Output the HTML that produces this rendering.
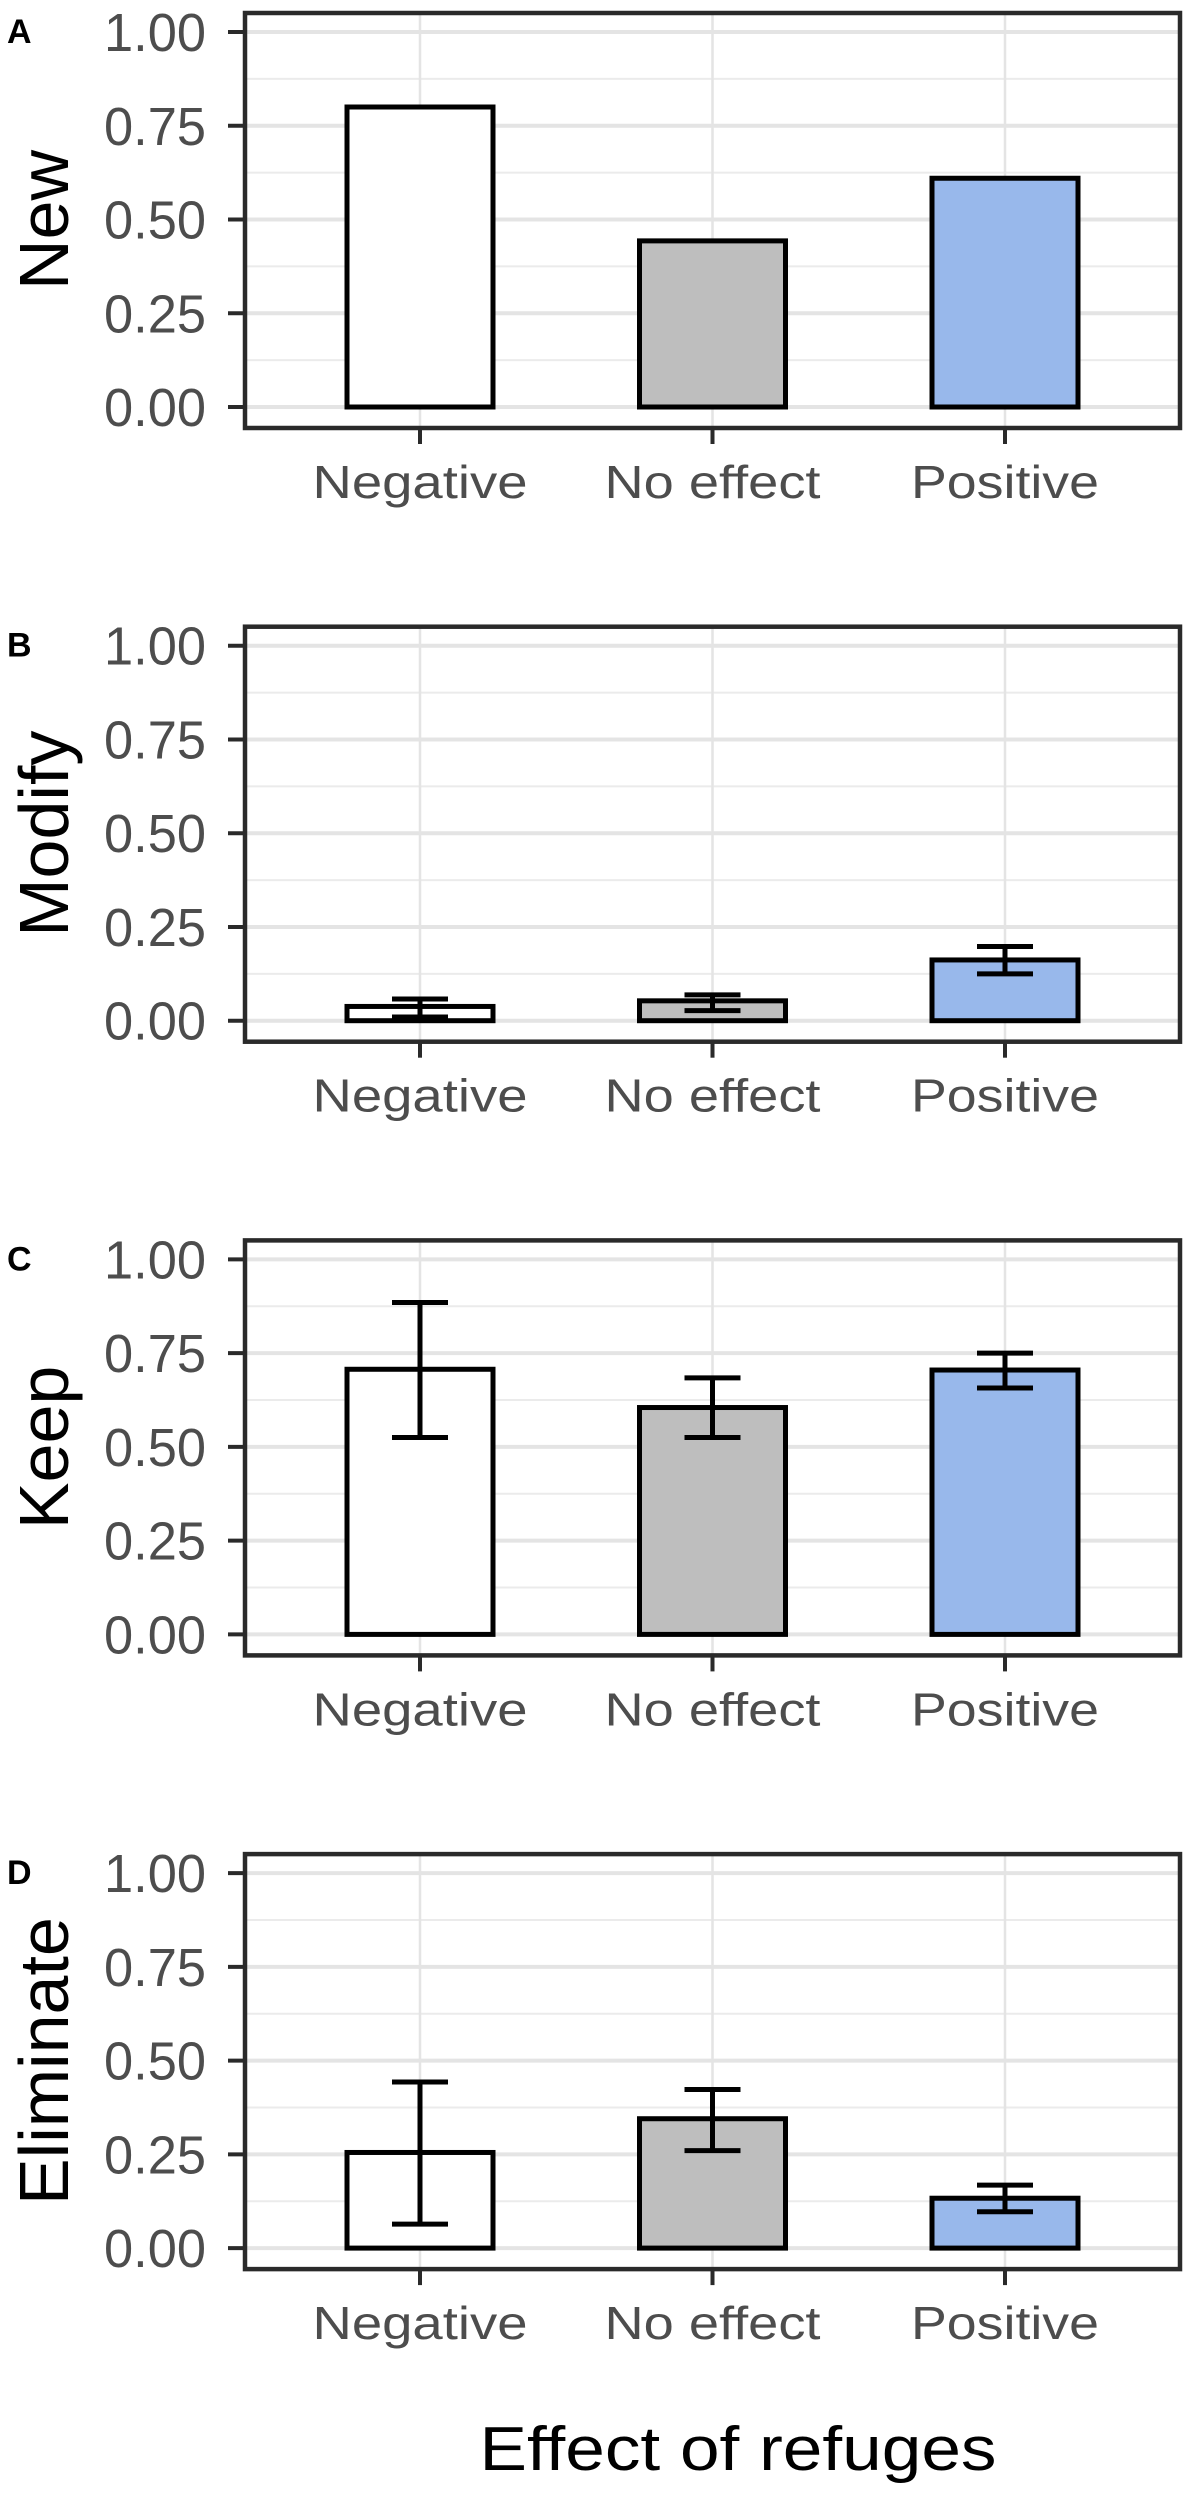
<!DOCTYPE html>
<html><head><meta charset="utf-8"><style>
html,body{margin:0;padding:0;background:#fff;}
svg{display:block;font-family:"Liberation Sans",Arial,sans-serif;}
</style></head><body>
<svg id="chart" width="1187" height="2500" viewBox="0 0 1187 2500" xmlns="http://www.w3.org/2000/svg"></svg>
<script>
const categories = ["Negative", "No effect", "Positive"];
const panelTitles = ["New", "Modify", "Keep", "Eliminate"];
const panelLetters = ["A", "B", "C", "D"];
const newValues = [0.80, 0.443, 0.61];
const modifyValues = [0.038, 0.053, 0.162];
const modifyLow = [0.010, 0.027, 0.125];
const modifyHigh = [0.058, 0.069, 0.198];
const keepValues = [0.707, 0.605, 0.705];
const keepLow = [0.525, 0.525, 0.657];
const keepHigh = [0.885, 0.684, 0.750];
const eliminateValues = [0.255, 0.345, 0.133];
const eliminateLow = [0.064, 0.260, 0.097];
const eliminateHigh = [0.443, 0.423, 0.168];
const yTicks = [0, 0.25, 0.5, 0.75, 1];
const yTickLabels = ["0.00", "0.25", "0.50", "0.75", "1.00"];
const barColors = ["#ffffff", "#bebebe", "#98b8eb"];
const labelLengths = [215, 216, 188];

const NS = "http://www.w3.org/2000/svg";
const svg = document.getElementById("chart");
function mk(tag, attrs, parent) {
  const e = document.createElementNS(NS, tag);
  for (const k in attrs) e.setAttribute(k, attrs[k]);
  (parent || svg).appendChild(e);
  return e;
}
const panels = [
  {vals: newValues, lo: null, hi: null},
  {vals: modifyValues, lo: modifyLow, hi: modifyHigh},
  {vals: keepValues, lo: keepLow, hi: keepHigh},
  {vals: eliminateValues, lo: eliminateLow, hi: eliminateHigh}
];
const L = 245, R = 1180, plotH = 375, barW = 146, capW = 56;
function xScale(i) { return 420 + i * 292.5; }

panels.forEach((p, pi) => {
  const y0 = 407 + pi * 613.7;
  const yS = v => y0 - v * plotH;
  const g = mk("g", {});
  
  
  for (let k = 0; k < 4; k++) {
    const v = 0.125 + k * 0.25;
    const ln = mk("line", {x1: L, x2: R, y1: yS(v), y2: yS(v), stroke: "#ebebeb", "stroke-width": 2}, g);
    
    
  }
  yTicks.forEach(v => {
    const ln = mk("line", {x1: L, x2: R, y1: yS(v), y2: yS(v), stroke: "#e4e4e4", "stroke-width": 4}, g);
    
    
  });
  categories.forEach((c, i) => {
    const ln = mk("line", {x1: xScale(i), x2: xScale(i), y1: y0 - 394, y2: y0 + 21, stroke: "#e4e4e4", "stroke-width": 2.5}, g);
    
    
  });
  p.vals.forEach((v, i) => {
    const r = mk("rect", {x: xScale(i) - barW / 2, y: yS(v), width: barW, height: y0 - yS(v), fill: barColors[i], stroke: "#000", "stroke-width": 5}, g);
    
    
    if (p.lo) {
      const eg = mk("g", {stroke: "#000", "stroke-width": 5}, g);
      
      
      const x = xScale(i);
      mk("line", {x1: x, x2: x, y1: yS(p.hi[i]), y2: yS(p.lo[i])}, eg);
      mk("line", {x1: x - capW / 2, x2: x + capW / 2, y1: yS(p.hi[i]), y2: yS(p.hi[i])}, eg);
      mk("line", {x1: x - capW / 2, x2: x + capW / 2, y1: yS(p.lo[i]), y2: yS(p.lo[i])}, eg);
    }
  });
  const fr = mk("rect", {x: L, y: y0 - 394, width: R - L, height: 415, fill: "none", stroke: "#2a2a2a", "stroke-width": 4.5}, g);
  
  
  yTicks.forEach((v, k) => {
    const t = mk("line", {x1: 228, x2: L, y1: yS(v), y2: yS(v), stroke: "#2a2a2a", "stroke-width": 4}, g);
    
    
    const tx = mk("text", {x: 206, y: yS(v) + 19, "text-anchor": "end", "font-size": 54, fill: "#4d4d4d", textLength: 102, lengthAdjust: "spacingAndGlyphs"}, g);
    tx.textContent = yTickLabels[k];
    
    
  });
  categories.forEach((c, i) => {
    const t = mk("line", {x1: xScale(i), x2: xScale(i), y1: y0 + 21, y2: y0 + 37, stroke: "#2a2a2a", "stroke-width": 4}, g);
    
    
    const tx = mk("text", {x: xScale(i), y: y0 + 91, "text-anchor": "middle", "font-size": 46, fill: "#4d4d4d", textLength: labelLengths[i], lengthAdjust: "spacingAndGlyphs"}, g);
    tx.textContent = c;
    
    
  });
  const cy = y0 - 187;
  const yt = mk("text", {x: 0, y: 0, "text-anchor": "middle", "font-size": 70, fill: "#000", transform: "translate(68," + cy + ") rotate(-90)"}, g);
  yt.textContent = panelTitles[pi];
  
  
  const lt = mk("text", {x: 7, y: y0 - 364, "font-size": 34, "font-weight": "bold", fill: "#000"}, g);
  lt.textContent = panelLetters[pi];
  
  
});
const xt = mk("text", {x: 738, y: 2470, "text-anchor": "middle", "font-size": 62, fill: "#000", textLength: 517, lengthAdjust: "spacingAndGlyphs"});
xt.textContent = "Effect of refuges";


</script>
</body></html>
